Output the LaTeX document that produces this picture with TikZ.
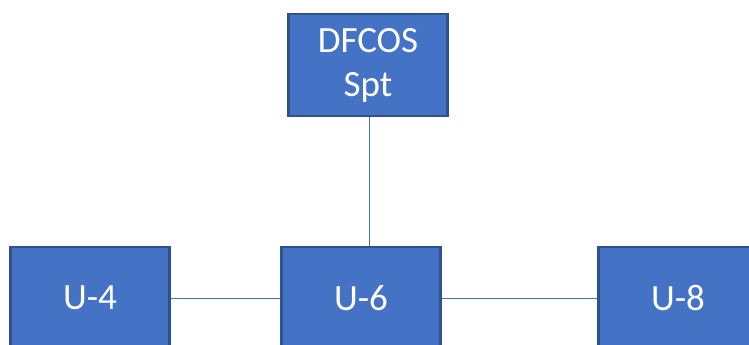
\documentclass[tikz,border=0pt]{standalone}
\usepackage{fontspec}
\setmainfont{Carlito}
\definecolor{boxfill}{HTML}{4472C4}
\definecolor{boxedge}{HTML}{2F528F}
\definecolor{linkc}{HTML}{4472C4}
\tikzset{
  unitbox/.style={draw=boxedge, fill=boxfill, line width=2.2pt, minimum width=159pt, minimum height=102pt,
    inner sep=0pt, text=white, align=center, font=\fontsize{37}{44}\selectfont},
  link/.style={draw=linkc, line width=1pt}
}
\begin{document}
\begin{tikzpicture}[x=1pt,y=-1pt]
\useasboundingbox (0,0) rectangle (749,345);
\begin{scope}
\clip (0,0) rectangle (749,345);
\node[unitbox] (dfcos) at (368,65) {DFCOS\\Spt};
\node[unitbox] (u4) at (90,298) {U-4};
\node[unitbox] (u6) at (361,298) {U-6};
\node[unitbox] (u8) at (678,298) {U-8};
\draw[link] (dfcos.south -| 369,0) -- (u6.north -| 369,0);
\draw[link] (u4) -- (u6);
\draw[link] (u6) -- (u8);
\end{scope}
\end{tikzpicture}
\end{document}
